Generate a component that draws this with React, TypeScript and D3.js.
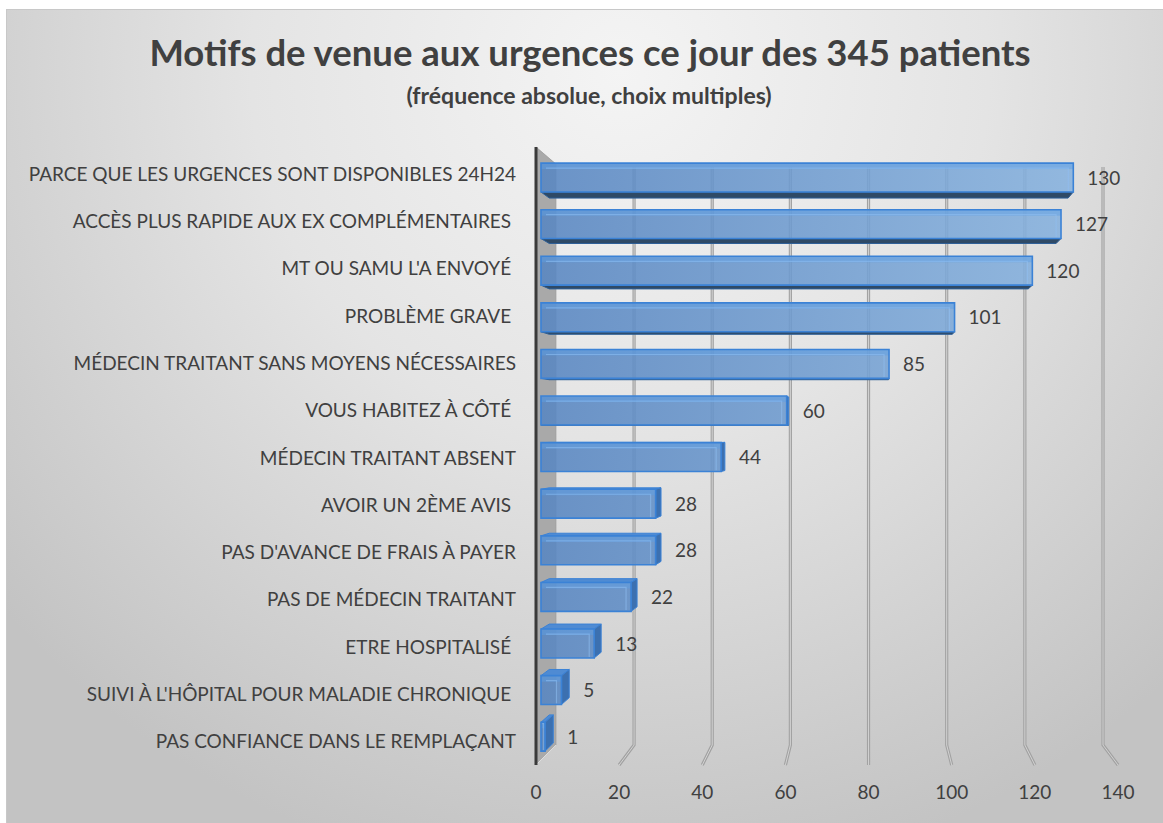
import React from "react";
import * as d3 from "d3";

const categories = [
  "PARCE QUE LES URGENCES SONT DISPONIBLES 24H24",
  "ACCÈS PLUS RAPIDE AUX EX COMPLÉMENTAIRES ",
  "MT OU SAMU L'A ENVOYÉ ",
  "PROBLÈME GRAVE ",
  "MÉDECIN TRAITANT SANS MOYENS NÉCESSAIRES",
  "VOUS HABITEZ À CÔTÉ ",
  "MÉDECIN TRAITANT ABSENT",
  "AVOIR UN 2ÈME AVIS ",
  "PAS D'AVANCE DE FRAIS À PAYER",
  "PAS DE MÉDECIN TRAITANT",
  "ETRE HOSPITALISÉ ",
  "SUIVI À L'HÔPITAL POUR MALADIE CHRONIQUE ",
  "PAS CONFIANCE DANS LE REMPLAÇANT",
];
const values = [130, 127, 120, 101, 85, 60, 44, 28, 28, 22, 13, 5, 1];
const ticks = [0, 20, 40, 60, 80, 100, 120, 140];

const title = "Motifs de venue aux urgences ce jour des 345 patients";
const subtitle = "(fréquence absolue, choix multiples)";

const W = 1163;
const H = 823;
const FONT = "Lato, 'Open Sans', sans-serif";
const TEXT = "#404040";

// perspective: points move toward a vanishing point as depth grows
const vp = { x: 868, y: 432 };
const plotTop = 147;
const plotBottom = 765;
const wallDepth = 0.06;
const barFront = 0.015;
const barBack = 0.04;

const xs = d3.scaleLinear().domain([0, 140]).range([536, 1118]);
const ys = d3
  .scaleBand<string>()
  .domain(categories)
  .range([150, plotBottom])
  .paddingInner(0.38)
  .paddingOuter(0.19);

function P(v: number, y: number, t: number): [number, number] {
  const x = xs(v);
  return [x + t * (vp.x - x), y + t * (vp.y - y)];
}

const poly = (pts: [number, number][]) =>
  "M" + pts.map((p) => p[0].toFixed(2) + "," + p[1].toFixed(2)).join("L") + "Z";
const line = (pts: [number, number][]) =>
  "M" + pts.map((p) => p[0].toFixed(2) + "," + p[1].toFixed(2)).join("L");

export default function App() {
  const bw = ys.bandwidth();

  return (
    <svg
      width={W}
      height={H}
      style={{ position: "absolute", left: 0, top: 0 }}
      fontFamily={FONT}
    >
      <defs>
        <radialGradient id="bg" gradientUnits="userSpaceOnUse" cx={620} cy={70} r={820}>
          <stop offset="0" stopColor="#f4f4f4" />
          <stop offset="0.45" stopColor="#e4e4e4" />
          <stop offset="1" stopColor="#c3c3c3" />
        </radialGradient>
        <linearGradient id="barFill" gradientUnits="userSpaceOnUse" x1={540} x2={1080} y1={0} y2={0}>
          <stop offset="0" stopColor="#5886c1" />
          <stop offset="1" stopColor="#88b3df" />
        </linearGradient>
      </defs>

      <rect x={0} y={0} width={W} height={H} fill="#ffffff" />
      <rect x={6.5} y={9.5} width={W} height={H} fill="url(#bg)" stroke="#c8c8c8" strokeWidth={1} />

      {/* back wall gridlines and floor bends */}
      {ticks
        .filter((t) => t > 0)
        .map((t) => {
          const d = line([P(t, plotTop + 3, wallDepth), P(t, plotBottom, wallDepth), P(t, plotBottom, 0)]);
          return (
            <g key={"g" + t}>
              <path d={d} fill="none" stroke="#a2a2a2" strokeWidth={3.2} />
              <path d={d} fill="none" stroke="#d2d2d2" strokeWidth={1} />
            </g>
          );
        })}

      {/* side wall */}
      <path
        d={poly([
          P(0, plotTop, 0),
          P(0, plotTop, wallDepth),
          P(0, plotBottom, wallDepth),
          P(0, plotBottom, 0),
        ])}
        fill="#a9a9a9"
        stroke="#9a9a9a"
        strokeWidth={0.8}
      />
      <path
        d={line([P(0, plotBottom, wallDepth), P(0, plotBottom, 0)])}
        stroke="#e0e0e0"
        strokeWidth={1}
      />

      {/* bars */}
      {values.map((v, i) => {
        const y0 = ys(categories[i]) as number;
        const y1 = y0 + bw;
        const f = [P(0, y0, barFront), P(v, y0, barFront), P(v, y1, barFront), P(0, y1, barFront)];
        const faces: React.ReactNode[] = [];
        if (y1 < vp.y) {
          faces.push(
            <path
              key="bottom"
              d={poly([P(0, y1, barFront), P(v, y1, barFront), P(v, y1, barBack), P(0, y1, barBack)])}
              fill="#2f4a66"
              stroke="#2d5f98"
              strokeWidth={1}
            />
          );
        }
        if (y0 > vp.y) {
          faces.push(
            <path
              key="top"
              d={poly([P(0, y0, barFront), P(v, y0, barFront), P(v, y0, barBack), P(0, y0, barBack)])}
              fill="#4f8bd3"
              stroke="#3b82d6"
              strokeWidth={1}
            />
          );
        }
        if (xs(v) < vp.x) {
          faces.push(
            <path
              key="right"
              d={poly([P(v, y0, barFront), P(v, y0, barBack), P(v, y1, barBack), P(v, y1, barFront)])}
              fill="#3c70b0"
              stroke="#3b82d6"
              strokeWidth={1}
            />
          );
        }
        const fx0 = f[0][0];
        const fx1 = f[1][0];
        const fy0 = f[0][1];
        const fy1 = f[2][1];
        const inset = Math.min(5, (fx1 - fx0) / 3);
        const cy = (fy0 + fy1) / 2;
        const lx = Math.max(fx1, P(v, y0, barBack)[0]) + 14;
        return (
          <g key={"b" + i}>
            {faces}
            <path d={poly(f)} fill="url(#barFill)" fillOpacity={0.88} />
            <rect
              x={fx0}
              y={fy0}
              width={fx1 - fx0}
              height={6}
              fill="#5e9fe6"
              fillOpacity={0.45}
            />
            <path
              d={line([
                [fx0 + inset, fy0 + inset],
                [fx1 - inset, fy0 + inset],
                [fx1 - inset, fy1 - 1],
              ])}
              fill="none"
              stroke="#8fc0f2"
              strokeOpacity={0.55}
              strokeWidth={1.2}
            />
            <path d={poly(f)} fill="none" stroke="#3b82d6" strokeWidth={1.6} />
            <text x={lx} y={cy + 7} fontSize={19} fill={TEXT}>
              {v}
            </text>
          </g>
        );
      })}

      {/* front vertical axis line */}
      <path d={line([P(0, plotTop, 0), P(0, plotBottom, 0)])} stroke="#3a3a3a" strokeWidth={3} />

      {/* category labels */}
      {categories.map((c) => (
        <text
          key={c}
          x={516}
          y={(ys(c) as number) + bw / 2 + 7}
          textAnchor="end"
          fontSize={19}
          fill={TEXT}
          style={{ whiteSpace: "pre" }}
        >
          {c}
        </text>
      ))}

      {/* x tick labels */}
      {ticks.map((t) => (
        <text key={"t" + t} x={xs(t)} y={799} textAnchor="middle" fontSize={19} fill={TEXT}>
          {t}
        </text>
      ))}

      <text x={590} y={66} textAnchor="middle" fontSize={36.5} fontWeight="bold" fill={TEXT}>
        {title}
      </text>
      <text x={589} y={104} textAnchor="middle" fontSize={23} fontWeight="bold" fill={TEXT}>
        {subtitle}
      </text>
    </svg>
  );
}
